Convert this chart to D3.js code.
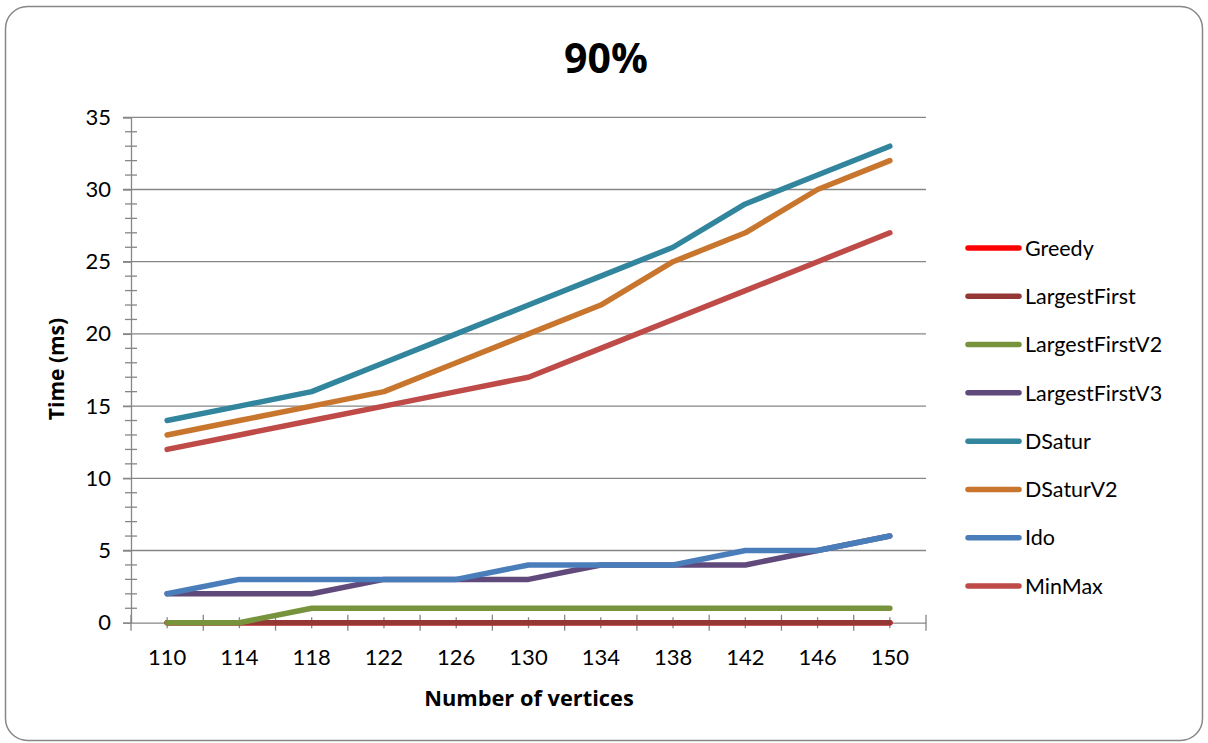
<!DOCTYPE html>
<html>
<head>
<meta charset="utf-8">
<script src="https://cdn.jsdelivr.net/npm/d3@7"></script>
<style>
  html, body { margin: 0; padding: 0; background: #fff; }
  svg { display: block; font-family: Lato, "Open Sans", "Noto Sans", sans-serif; }
</style>
</head>
<body>
<svg id="chart" width="1208" height="743"></svg>
<script>
// Vertex counts on the category axis
const vertices = [110, 114, 118, 122, 126, 130, 134, 138, 142, 146, 150];

// Running time (ms) per algorithm
const greedy          = [0, 0, 0, 0, 0, 0, 0, 0, 0, 0, 0];
const largestFirst    = [0, 0, 0, 0, 0, 0, 0, 0, 0, 0, 0];
const largestFirstV2  = [0, 0, 1, 1, 1, 1, 1, 1, 1, 1, 1];
const largestFirstV3  = [2, 2, 2, 3, 3, 3, 4, 4, 4, 5, 6];
const dsatur          = [14, 15, 16, 18, 20, 22, 24, 26, 29, 31, 33];
const dsaturV2        = [13, 14, 15, 16, 18, 20, 22, 25, 27, 30, 32];
const ido             = [2, 3, 3, 3, 3, 4, 4, 4, 5, 5, 6];
const minMax          = [12, 13, 14, 15, 16, 17, 19, 21, 23, 25, 27];

const seriesNames  = ["Greedy", "LargestFirst", "LargestFirstV2", "LargestFirstV3", "DSatur", "DSaturV2", "Ido", "MinMax"];
const seriesValues = [greedy, largestFirst, largestFirstV2, largestFirstV3, dsatur, dsaturV2, ido, minMax];
const seriesColors = ["#FF0000", "#953735", "#77933C", "#604A7B", "#31859C", "#C8762E", "#4A7EBB", "#BE4B48"];

const yTicks = [0, 5, 10, 15, 20, 25, 30, 35];
const titleText = "90%";
const xTitle = "Number of vertices";
const yTitle = "Time (ms)";

const svg = d3.select("#chart");
const axisColor = "#868686";
const boldFont = "'Open Sans', Lato, sans-serif";

// Outer rounded frame
svg.append("rect")
  .attr("x", 5.5).attr("y", 6.5)
  .attr("width", 1197).attr("height", 734)
  .attr("rx", 22).attr("ry", 22)
  .attr("fill", "#fff")
  .attr("stroke", "#878787")
  .attr("stroke-width", 1.5);

const plot = { left: 131, right: 926, top: 117.3, bottom: 622.7 };

const x = d3.scaleBand()
  .domain(vertices)
  .range([plot.left, plot.right])
  .paddingInner(0).paddingOuter(0);

const y = d3.scaleLinear()
  .domain([0, 35])
  .range([plot.bottom, plot.top]);

const xc = d => x(d) + x.bandwidth() / 2;

// Horizontal gridlines
svg.append("g")
  .selectAll("line")
  .data(yTicks.filter(t => t > 0))
  .join("line")
  .attr("x1", plot.left - 8).attr("x2", plot.right)
  .attr("y1", d => y(d)).attr("y2", d => y(d))
  .attr("stroke", axisColor).attr("stroke-width", 1.3);

// Minor y ticks (every 1 ms)
svg.append("g")
  .selectAll("line")
  .data(d3.range(0, 36).filter(v => v % 5 !== 0))
  .join("line")
  .attr("x1", plot.left - 6).attr("x2", plot.left + 6)
  .attr("y1", d => y(d)).attr("y2", d => y(d))
  .attr("stroke", axisColor).attr("stroke-width", 1.3);

// Y axis with labels
const yAxis = d3.axisLeft(y).tickValues(yTicks).tickSize(8).tickPadding(12);
const yg = svg.append("g")
  .attr("transform", `translate(${plot.left},0)`)
  .call(yAxis);
yg.select(".domain").attr("stroke", axisColor).attr("stroke-width", 1.3);
yg.selectAll(".tick line").attr("stroke", axisColor).attr("stroke-width", 1.3);
yg.selectAll(".tick text")
  .attr("font-size", 22).attr("fill", "#000")
  .style("font-family", "Lato, 'Open Sans', sans-serif");

// X axis: major ticks at category boundaries, minor ticks at centres
const boundaries = vertices.map(v => x(v)).concat([plot.right]);
svg.append("g")
  .selectAll("line")
  .data(boundaries)
  .join("line")
  .attr("x1", d => d).attr("x2", d => d)
  .attr("y1", plot.bottom - 8).attr("y2", plot.bottom + 8)
  .attr("stroke", axisColor).attr("stroke-width", 1.3);
svg.append("g")
  .selectAll("line")
  .data(vertices)
  .join("line")
  .attr("x1", d => xc(d)).attr("x2", d => xc(d))
  .attr("y1", plot.bottom - 5.5).attr("y2", plot.bottom + 5.5)
  .attr("stroke", axisColor).attr("stroke-width", 1.3);

const xAxis = d3.axisBottom(x).tickSize(0).tickPadding(27);
const xg = svg.append("g")
  .attr("transform", `translate(0,${plot.bottom})`)
  .call(xAxis);
xg.select(".domain").attr("stroke", axisColor).attr("stroke-width", 1.3);
xg.selectAll(".tick text")
  .attr("font-size", 22).attr("fill", "#000")
  .style("font-family", "Lato, 'Open Sans', sans-serif");

// Series lines
const line = d3.line()
  .x((d, i) => xc(vertices[i]))
  .y(d => y(d));

svg.append("g")
  .selectAll("path")
  .data(seriesValues)
  .join("path")
  .attr("d", d => line(d))
  .attr("fill", "none")
  .attr("stroke", (d, i) => seriesColors[i])
  .attr("stroke-width", 5.5)
  .attr("stroke-linecap", "round")
  .attr("stroke-linejoin", "round");

// Legend
const legend = svg.append("g");
const legendY = d3.scaleLinear().domain([0, 7]).range([248, 586]);
seriesNames.forEach((name, i) => {
  const ly = legendY(i);
  legend.append("line")
    .attr("x1", 968).attr("x2", 1019)
    .attr("y1", ly).attr("y2", ly)
    .attr("stroke", seriesColors[i])
    .attr("stroke-width", 5.5)
    .attr("stroke-linecap", "round");
  legend.append("text")
    .attr("x", 1025).attr("y", ly)
    .attr("dy", "0.36em")
    .attr("font-size", 21.5)
    .attr("fill", "#000")
    .text(name);
});

// Titles
svg.append("text")
  .attr("x", 606).attr("y", 73)
  .attr("text-anchor", "middle")
  .attr("font-size", 41).attr("font-weight", "bold")
  .style("font-family", boldFont)
  .text(titleText);

svg.append("text")
  .attr("x", 529).attr("y", 706)
  .attr("text-anchor", "middle")
  .attr("font-size", 21.8).attr("font-weight", "bold")
  .style("font-family", boldFont)
  .text(xTitle);

svg.append("text")
  .attr("transform", "translate(64,369) rotate(-90)")
  .attr("text-anchor", "middle")
  .attr("font-size", 21).attr("font-weight", "bold")
  .style("font-family", boldFont)
  .text(yTitle);
</script>
</body>
</html>
